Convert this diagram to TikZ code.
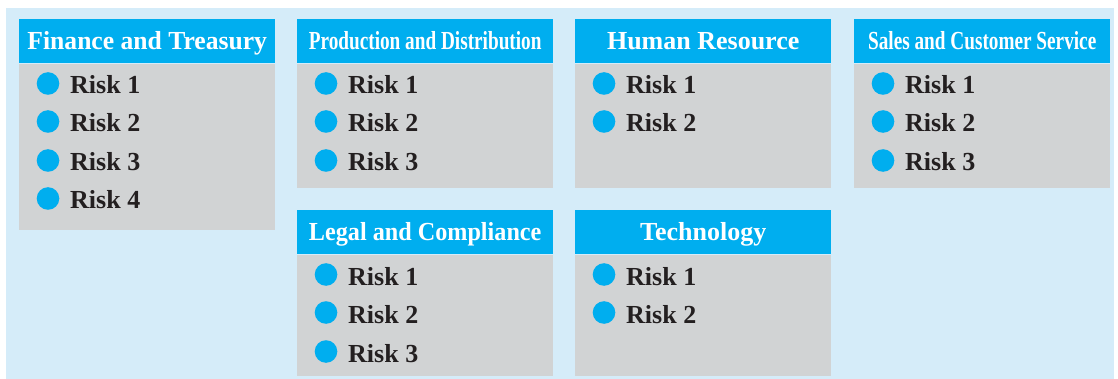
\documentclass[tikz,border=0pt]{standalone}
\usepackage{fontspec}
\setmainfont{Liberation Serif}
\usepackage{graphicx}
\usetikzlibrary{calc}
\definecolor{bgblue}{HTML}{D5ECF9}
\definecolor{hdblue}{HTML}{00AEEF}
\definecolor{bodygrey}{HTML}{D1D3D4}
\definecolor{txtdark}{HTML}{231F20}
\tikzset{
  hdr/.style={fill=hdblue, draw=none, inner sep=0pt, anchor=north west, minimum width=256pt, minimum height=44pt},
  bodybox/.style={fill=bodygrey, draw=none, inner sep=0pt, anchor=north west, minimum width=256pt},
  hdrtext/.style={text=white, font=\fontsize{26}{30}\selectfont\bfseries, anchor=base, inner sep=0pt},
  risktext/.style={text=txtdark, font=\fontsize{26}{30}\selectfont\bfseries, anchor=base west, inner sep=0pt},
  bulletdot/.style={circle, fill=hdblue, draw=none, minimum size=22.6pt, inner sep=0pt},
}
% #1 name, #2 left, #3 top, #4 body height, #5 title, #6 xscale of title, #7 row offsets
\newcommand\riskpanel[7]{%
  \node[hdr] (#1-hdr) at (#2,#3) {};
  \node[bodybox, minimum height=#4pt] (#1-body) at (#1-hdr.south west) {};
  \node[hdrtext] (#1-title) at ($(#1-hdr.north)+(0,30.5)$) {\scalebox{#6}[1]{#5}};
  \foreach \dy [count=\i] in {#7} {
    \node[bulletdot] (#1-b\i) at ($(#1-hdr.north west)+(29,\dy)$) {};
    \node[risktext] (#1-r\i) at ($(#1-hdr.north west)+(51,\dy+10.5)$) {Risk \i};
  }
}
\begin{document}
\begin{tikzpicture}[x=1pt,y=-1pt]
\useasboundingbox (0,0) rectangle (1118,379);
\node[fill=bgblue, draw=none, inner sep=0pt, anchor=north west, minimum width=1108pt, minimum height=371pt] (bg) at (6,8) {};
\riskpanel{fin}{19}{19}{166}{Finance and Treasury}{0.985}{64.5,102.5,141.5,179.5}
\riskpanel{prod}{297}{19}{124}{Production and Distribution}{0.74}{64.5,102.5,141.5}
\riskpanel{hr}{575}{19}{124}{Human Resource}{1}{64.5,102.5}
\riskpanel{sales}{854}{19}{124}{Sales and Customer Service}{0.74}{64.5,102.5,141.5}
\riskpanel{legal}{297}{210}{121}{Legal and Compliance}{0.93}{64.5,102.5,141.5}
\riskpanel{tech}{575}{210}{121}{Technology}{1}{64.5,102.5}
\end{tikzpicture}
\end{document}
